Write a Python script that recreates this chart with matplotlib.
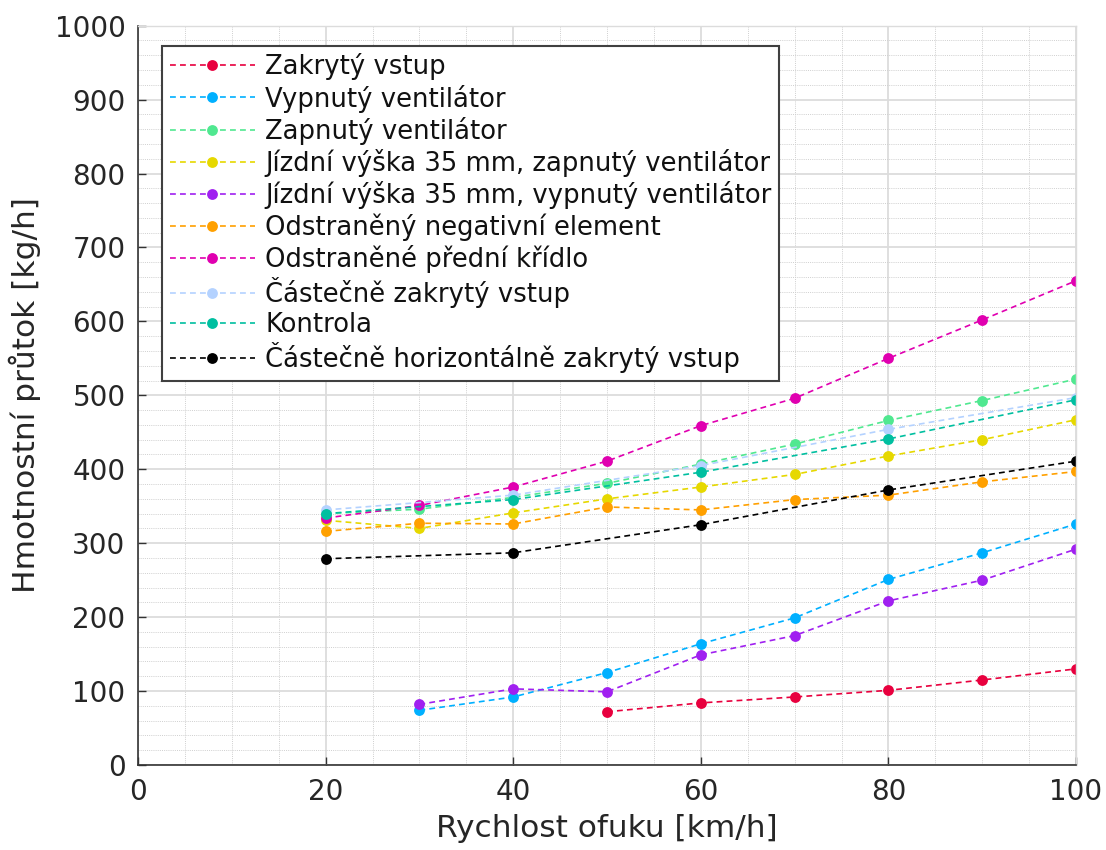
import matplotlib
matplotlib.use("Agg")
import matplotlib.pyplot as plt
from matplotlib.ticker import MultipleLocator

plt.rcParams['font.family'] = ['DejaVu Sans']

# ---- data ----
labels = [
    "Zakrytý vstup",
    "Vypnutý ventilátor",
    "Zapnutý ventilátor",
    "Jízdní výška 35 mm, zapnutý ventilátor",
    "Jízdní výška 35 mm, vypnutý ventilátor",
    "Odstraněný negativní element",
    "Odstraněné přední křídlo",
    "Částečně zakrytý vstup",
    "Kontrola",
    "Částečně horizontálně zakrytý vstup",
]
x_red = [50, 60, 70, 80, 90, 100]
y_red = [72, 84, 92, 101, 115, 130]
x_blue = [30, 40, 50, 60, 70, 80, 90, 100]
y_blue = [74, 92, 125, 164, 199, 251, 287, 326]
x_green = [20, 30, 40, 50, 60, 70, 80, 90, 100]
y_green = [340, 346, 362, 381, 407, 434, 466, 493, 522]
x_yellow = [20, 30, 40, 50, 60, 70, 80, 90, 100]
y_yellow = [331, 320, 341, 360, 376, 393, 418, 440, 467]
x_purple = [30, 40, 50, 60, 70, 80, 90, 100]
y_purple = [82, 103, 99, 149, 175, 222, 250, 292]
x_orange = [20, 30, 40, 50, 60, 70, 80, 90, 100]
y_orange = [316, 327, 326, 349, 345, 359, 365, 383, 397]
x_magenta = [20, 30, 40, 50, 60, 70, 80, 90, 100]
y_magenta = [334, 351, 376, 411, 459, 496, 550, 602, 655]
x_lblue = [20, 40, 60, 80, 100]
y_lblue = [345, 365, 405, 454, 497]
x_teal = [20, 40, 60, 80, 100]
y_teal = [340, 359, 396, 441, 494]
x_black = [20, 40, 60, 80, 100]
y_black = [279, 287, 325, 372, 411]

xs = [x_red, x_blue, x_green, x_yellow, x_purple, x_orange, x_magenta, x_lblue, x_teal, x_black]
ys = [y_red, y_blue, y_green, y_yellow, y_purple, y_orange, y_magenta, y_lblue, y_teal, y_black]
colors = ['#e8003e', '#00b0ff', '#50e890', '#e6d800', '#a020f0',
          '#ffa000', '#e000b0', '#b4d2ff', '#00bfa0', '#000000']

xticks = [0, 20, 40, 60, 80, 100]
yticks = [0, 100, 200, 300, 400, 500, 600, 700, 800, 900, 1000]
xlabel = "Rychlost ofuku [km/h]"
ylabel = "Hmotnostní průtok [kg/h]"

# ---- figure ----
fig = plt.figure(figsize=(11.06, 8.5), dpi=100)
ax = fig.add_axes([0.1248, 0.1, 0.8481, 0.8698])

for x, y, c, lab in zip(xs, ys, colors, labels):
    ax.plot(x, y, linestyle=(0, (3.5, 2.5)), linewidth=1.2, color=c,
            marker='o', markersize=7.8, markeredgewidth=0, label=lab)

ax.set_xlim(0, 100)
ax.set_ylim(0, 1000)
ax.set_xticks(xticks)
ax.set_yticks(yticks)
ax.xaxis.set_minor_locator(MultipleLocator(5))
ax.yaxis.set_minor_locator(MultipleLocator(20))

ax.grid(which='major', color='#dcdcdc', linestyle='-', linewidth=1.3)
ax.grid(which='minor', color='#cfcfcf', linestyle=(0, (1, 1.2)), linewidth=0.7)
ax.set_axisbelow(True)

ax.tick_params(which='major', direction='in', length=6, width=1, color='#333333',
               labelsize=20, labelcolor='#262626', pad=9, top=False, right=False)
ax.tick_params(which='minor', length=0)

for s in ['left', 'bottom']:
    ax.spines[s].set_color('#333333')
    ax.spines[s].set_linewidth(1.2)
for s in ['top', 'right']:
    ax.spines[s].set_color('#dcdcdc')
    ax.spines[s].set_linewidth(1.0)

ax.set_xlabel(xlabel, fontsize=22.5, color='#262626', labelpad=6)
ax.set_ylabel(ylabel, fontsize=22.5, color='#262626', labelpad=10)

leg = ax.legend(loc='upper left', bbox_to_anchor=(0.0256, 0.973), borderaxespad=0,
                fontsize=18.6, handlelength=3.3, handletextpad=0.4, labelspacing=0.16,
                borderpad=0.3, fancybox=False, framealpha=1, edgecolor='#404040',
                numpoints=1)
leg.get_frame().set_linewidth(1.5)
for t in leg.get_texts():
    t.set_color('#111111')

fig.savefig("out.png", dpi=100)
